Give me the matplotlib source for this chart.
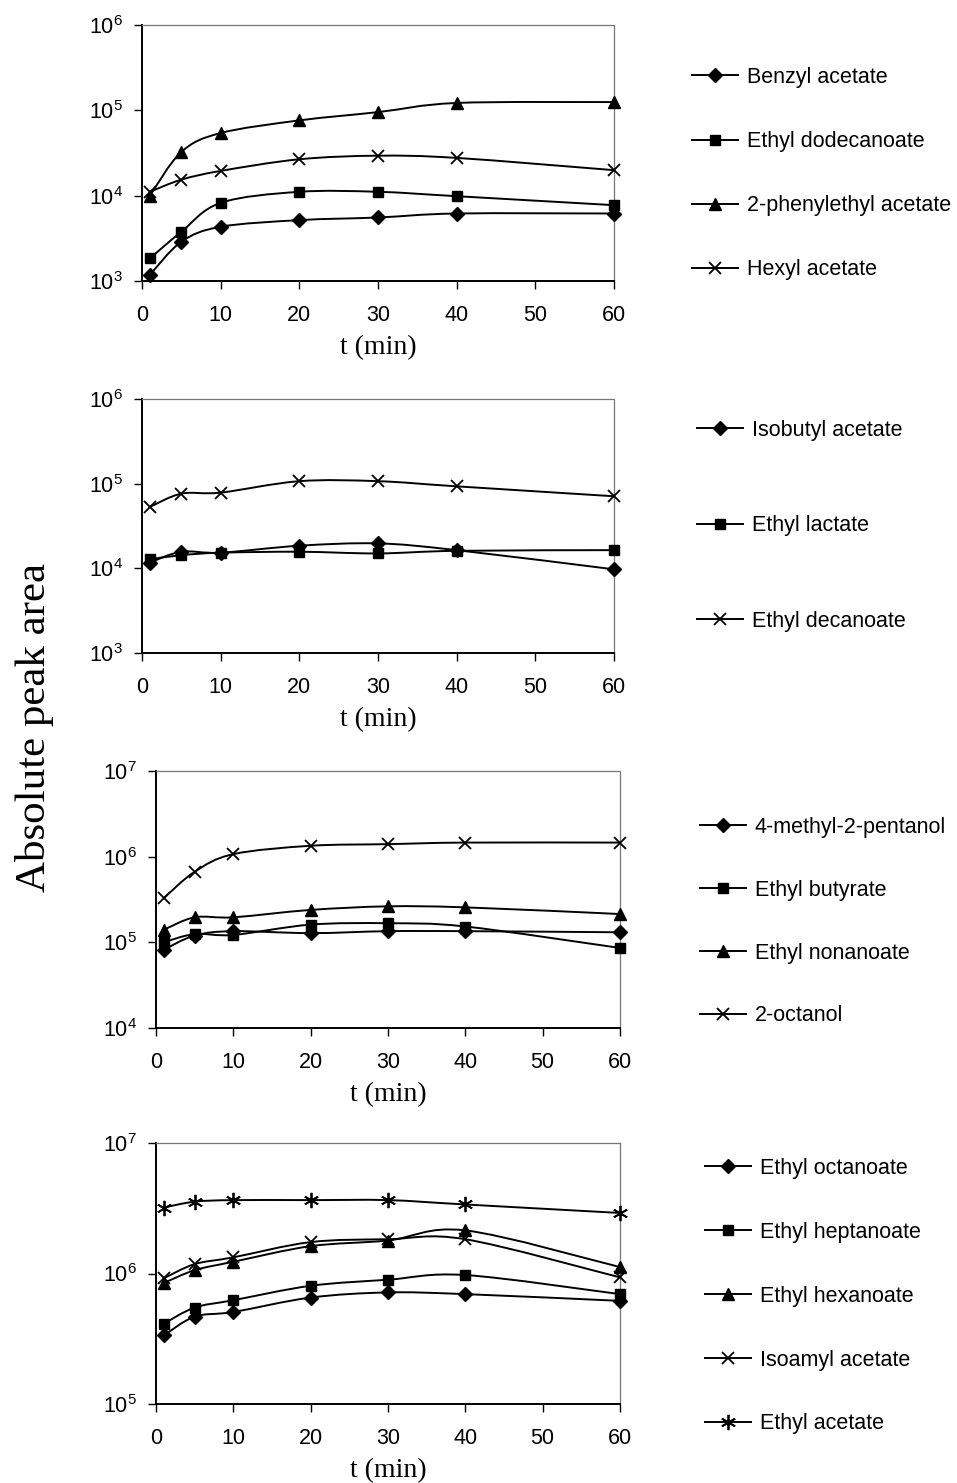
import numpy as np
import matplotlib
matplotlib.use("Agg")
import matplotlib.pyplot as plt
from matplotlib.path import Path
from matplotlib.patches import PathPatch
from matplotlib.lines import Line2D
from matplotlib.ticker import LogLocator, NullLocator, LogFormatterSciNotation

plt.rcParams['font.family'] = ['Liberation Sans', 'DejaVu Sans']
plt.rcParams['mathtext.fontset'] = 'custom'
plt.rcParams['mathtext.rm'] = 'Liberation Sans'
plt.rcParams['mathtext.it'] = 'Liberation Sans'

t = [1, 5, 10, 20, 30, 40, 60]
x_ticks = [0, 10, 20, 30, 40, 50, 60]

# Panel 1
p1_names = ["Benzyl acetate", "Ethyl dodecanoate", "2-phenylethyl acetate", "Hexyl acetate"]
benzyl_acetate = [1180, 2880, 4320, 5170, 5550, 6180, 6180]
ethyl_dodecanoate = [1840, 3770, 8240, 11100, 11100, 9860, 7740]
phenylethyl_acetate = [10000, 32500, 54200, 76200, 95300, 122000, 125000]
hexyl_acetate = [11100, 15400, 19500, 26700, 29400, 27700, 19900]

# Panel 2
p2_names = ["Isobutyl acetate", "Ethyl lactate", "Ethyl decanoate"]
isobutyl_acetate = [11700, 15700, 15300, 18500, 19700, 16400, 9730]
ethyl_lactate = [12800, 14300, 15300, 15700, 15000, 16100, 16400]
ethyl_decanoate = [53100, 76200, 78400, 107000, 107000, 93000, 71000]

# Panel 3
p3_names = ["4-methyl-2-pentanol", "Ethyl butyrate", "Ethyl nonanoate", "2-octanol"]
methyl_pentanol = [82000, 120000, 135000, 128000, 135000, 135000, 131000]
ethyl_butyrate = [100000, 125000, 122000, 161000, 167000, 153000, 86000]
ethyl_nonanoate = [140000, 196000, 196000, 239000, 263000, 256000, 214000]
octanol = [327000, 667000, 1070000, 1340000, 1400000, 1460000, 1460000]

# Panel 4
p4_names = ["Ethyl octanoate", "Ethyl heptanoate", "Ethyl hexanoate", "Isoamyl acetate", "Ethyl acetate"]
ethyl_octanoate = [335000, 467000, 507000, 654000, 716000, 695000, 617000]
ethyl_heptanoate = [412000, 548000, 624000, 805000, 896000, 973000, 695000]
ethyl_hexanoate = [845000, 1060000, 1230000, 1620000, 1790000, 2140000, 1120000]
isoamyl_acetate = [918000, 1180000, 1330000, 1740000, 1830000, 1830000, 934000]
ethyl_acetate = [3200000, 3550000, 3650000, 3650000, 3650000, 3380000, 2910000]

ASTER = (6, 2, 0)
markers = {'D': dict(marker='D', ms=7.2), 's': dict(marker='s', ms=7.5),
           '^': dict(marker='^', ms=9), 'x': dict(marker='x', ms=9, mew=1.3),
           '*': dict(marker=ASTER, ms=11, mew=1.3)}

panels = [
    dict(rect=[142, 25, 614, 281], ylim=(1e3, 1e6),
         series=[(benzyl_acetate, 'D'), (ethyl_dodecanoate, 's'), (phenylethyl_acetate, '^'), (hexyl_acetate, 'x')],
         names=p1_names, leg=(692, 67), spacing=2.0),
    dict(rect=[142, 399, 614, 653], ylim=(1e3, 1e6),
         series=[(isobutyl_acetate, 'D'), (ethyl_lactate, 's'), (ethyl_decanoate, 'x')],
         names=p2_names, leg=(697, 420), spacing=3.45),
    dict(rect=[156, 771, 620, 1028], ylim=(1e4, 1e7),
         series=[(methyl_pentanol, 'D'), (ethyl_butyrate, 's'), (ethyl_nonanoate, '^'), (octanol, 'x')],
         names=p3_names, leg=(700, 817), spacing=1.94),
    dict(rect=[156, 1143, 620, 1404], ylim=(1e5, 1e7),
         series=[(ethyl_octanoate, 'D'), (ethyl_heptanoate, 's'), (ethyl_hexanoate, '^'), (isoamyl_acetate, 'x'), (ethyl_acetate, '*')],
         names=p4_names, leg=(705, 1158), spacing=1.99),
]

W, H = 957, 1483
fig = plt.figure(figsize=(W / 100, H / 100), dpi=100)


def smooth_path(xs, ys):
    lx = np.array(xs, float)
    ly = np.log10(np.array(ys, float))
    n = len(lx)
    verts = [(lx[0], ly[0])]
    codes = [Path.MOVETO]
    for i in range(n - 1):
        p0 = np.array([lx[max(i - 1, 0)], ly[max(i - 1, 0)]])
        p1 = np.array([lx[i], ly[i]])
        p2 = np.array([lx[i + 1], ly[i + 1]])
        p3 = np.array([lx[min(i + 2, n - 1)], ly[min(i + 2, n - 1)]])
        c1 = p1 + (p2 - p0) / 6.0
        c2 = p2 - (p3 - p1) / 6.0
        verts += [tuple(c1), tuple(c2), tuple(p2)]
        codes += [Path.CURVE4] * 3
    verts = [(vx, 10 ** vy) for vx, vy in verts]
    return Path(verts, codes)


for p in panels:
    l, tp, r, b = p['rect']
    ax = fig.add_axes([l / W, 1 - b / H, (r - l) / W, (b - tp) / H])
    ax.set_yscale('log')
    ax.set_xlim(0, 60)
    ax.set_ylim(*p['ylim'])
    ax.set_xticks(x_ticks)
    ax.yaxis.set_major_locator(LogLocator(base=10, numticks=10))
    ax.yaxis.set_minor_locator(NullLocator())
    ax.yaxis.set_major_formatter(LogFormatterSciNotation())
    ax.tick_params(axis='both', direction='out', length=6, width=1.0, labelsize=15.5)
    ax.tick_params(axis='x', pad=11)
    ax.tick_params(axis='y', pad=8)
    for s in ['top', 'right']:
        ax.spines[s].set_linestyle((0, (1, 1)))
        ax.spines[s].set_color('#777777')
        ax.spines[s].set_linewidth(0.9)
    for s in ['left', 'bottom']:
        ax.spines[s].set_linewidth(1.4)
    handles = []
    for vals, m in p['series']:
        patch = PathPatch(smooth_path(t, vals), fill=False, edgecolor='black', lw=1.4,
                          transform=ax.transData, clip_on=False, zorder=3)
        ax.add_patch(patch)
        mk = markers[m]
        ax.plot(t, vals, linestyle='none', color='black', mfc='black', mec='black',
                clip_on=False, zorder=4, **mk)
        handles.append(Line2D([], [], color='black', lw=1.4, mfc='black', mec='black', **mk))
    ax.set_xlabel('t (min)', family=['Liberation Serif'], fontsize=20, labelpad=7)
    lx, ly = p['leg']
    fig.legend(handles, p['names'], loc='upper left', bbox_to_anchor=(lx / W, 1 - ly / H),
               frameon=False, fontsize=15.5, labelspacing=p['spacing'], handlelength=2.15,
               handletextpad=0.4, borderpad=0, borderaxespad=0)

fig.text(35 / W, 1 - 728 / H, 'Absolute peak area', rotation=90, ha='center', va='center',
         family=['Liberation Serif'], fontsize=31)

fig.savefig('out.png', dpi=100)
